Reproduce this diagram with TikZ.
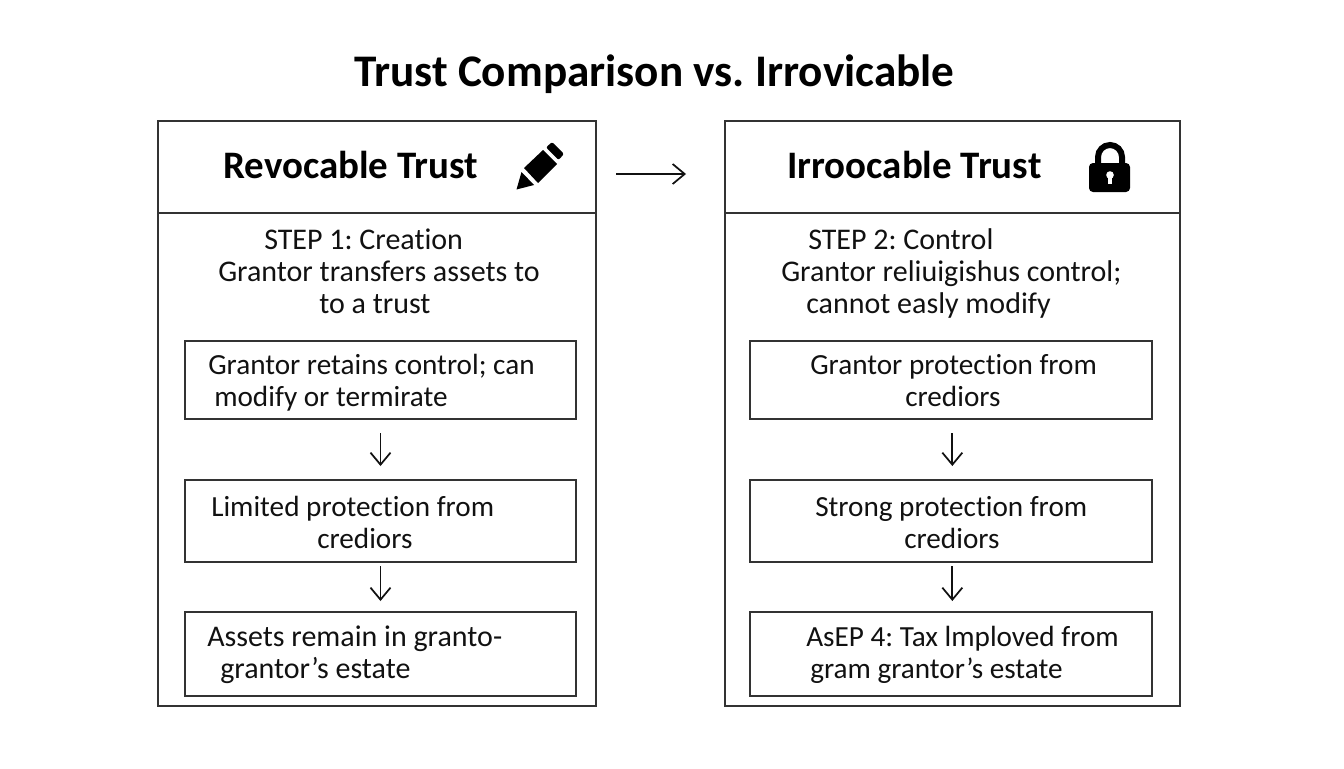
\documentclass[tikz,border=0pt]{standalone}
\usepackage{fontspec}
\setmainfont{Carlito}[Ligatures=CommonOff]
\usetikzlibrary{arrows.meta}
\definecolor{ink}{HTML}{111111}
\definecolor{rulec}{HTML}{333333}
\frenchspacing
\tikzset{
  x=0.75pt,y=-0.75pt,
  panel/.style={draw=rulec,line width=1.1pt,minimum width=#1,inner sep=0pt,outer sep=0pt,anchor=north west},
  inbox/.style={draw=rulec,line width=1.1pt,inner sep=0pt,outer sep=0pt,anchor=north west},
  txt/.style={anchor=north west,inner sep=0pt,align=left,text=ink,font=\fontsize{22.5pt}{24.3pt}\selectfont},
  boxtxt/.style={txt,font=\fontsize{21.9pt}{24.3pt}\selectfont},
  head/.style={anchor=base west,inner sep=0pt,text=black,font=\fontsize{29.2pt}{34pt}\selectfont\bfseries},
  flow/.style={draw=ink,line width=1.3pt,-{Straight Barb[length=9pt,width=15pt,line width=1.3pt]}},
  icon/.style={fill=black,draw=none}
}
\newcommand{\fl}{\rule{0pt}{16pt}}
\begin{document}
\begin{tikzpicture}
\useasboundingbox (0,0) rectangle (1344,768);
\node[anchor=base west,inner sep=0pt,font=\fontsize{33.9pt}{40pt}\selectfont\bfseries] (title) at (354,86) {Trust Comparison vs. Irrovicable};
% panels
\node[panel=328.5pt,minimum height=438.75pt] (lp) at (158,121) {};
\node[panel=341.25pt,minimum height=438.75pt] (rp) at (725,121) {};
\node[panel=328.5pt,minimum height=69pt] (lh) at (158,121) {};
\node[panel=341.25pt,minimum height=69pt] (rh) at (725,121) {};
\node[head] (lt) at (223,178) {Revocable Trust};
\node[head] (rt) at (787,178) {Irroocable Trust};
% pencil
\fill[icon] (516.5,189.5) -- (521.5,172) -- (534,185) -- cycle;
\fill[icon] (524,168) -- (543,150) -- (557,164) -- (538,183) -- cycle;
\fill[icon,rounded corners=1.5pt] (546,147.5) -- (552,142) -- (564,154) -- (558.5,160) -- cycle;
% lock
\draw[black,line width=4.5pt] (1098,165) -- (1098,157) arc[start angle=180,end angle=360,radius=12] -- (1122,165);
\fill[icon,rounded corners=3pt] (1089,163) rectangle (1130,192);
\fill[white] (1110,175) circle (3.8);
\fill[white] (1108,176) rectangle (1112,184);
% text blocks
\node[txt] (l0) at (264,227.5) {\fl STEP 1: Creation\\\hspace*{-34.5pt}Grantor transfers assets to\\\hspace*{41.25pt}to a trust};
\node[txt] (r0) at (808,227.5) {\fl STEP 2: Control\\\hspace*{-20.25pt}Grantor reliuigishus control;\\\hspace*{-1.5pt}cannot easly modify};
% boxes
\node[inbox,minimum width=293.25pt,minimum height=58.5pt] (l1) at (185,341) {};
\node[inbox,minimum width=293.25pt,minimum height=61.5pt] (l2) at (185,480) {};
\node[inbox,minimum width=293.25pt,minimum height=63pt] (l3) at (185,612) {};
\node[inbox,minimum width=301.5pt,minimum height=58.5pt] (r1) at (750,341) {};
\node[inbox,minimum width=301.5pt,minimum height=61.5pt] (r2) at (750,480) {};
\node[inbox,minimum width=301.5pt,minimum height=63pt] (r3) at (750,612) {};
\node[boxtxt] (l1t) at (208,352.7) {\fl Grantor retains control; can\\\hspace*{4.5pt}modify or termirate};
\node[boxtxt] (l2t) at (211,494.7) {\fl Limited protection from\\\hspace*{79.5pt}crediors};
\node[txt] (l3t) at (207,624.7) {\fl Assets remain in granto-\\\hspace*{9.75pt}grantor’s estate};
\node[boxtxt] (r1t) at (810,352.7) {\fl Grantor protection from\\\hspace*{71.25pt}crediors};
\node[boxtxt] (r2t) at (815,494.7) {\fl Strong protection from\\\hspace*{66.75pt}crediors};
\node[boxtxt] (r3t) at (806,624.7) {\fl AsEP 4: Tax lmploved from\\\hspace*{3pt}gram grantor’s estate};
% connectors
\coordinate (hs) at (616,174);
\coordinate (he) at (686,174);
\draw[flow] (hs) -- (he);
\draw[flow,shorten <=10.5pt,shorten >=10.5pt] (l1.south) -- (l2.north);
\draw[flow,shorten <=3pt,shorten >=8.25pt] (l2.south) -- (l3.north);
\draw[flow,shorten <=10.5pt,shorten >=10.5pt] ([xshift=1pt]r1.south) -- ([xshift=1pt]r2.north);
\draw[flow,shorten <=3pt,shorten >=8.25pt] ([xshift=1pt]r2.south) -- ([xshift=1pt]r3.north);
\end{tikzpicture}
\end{document}
